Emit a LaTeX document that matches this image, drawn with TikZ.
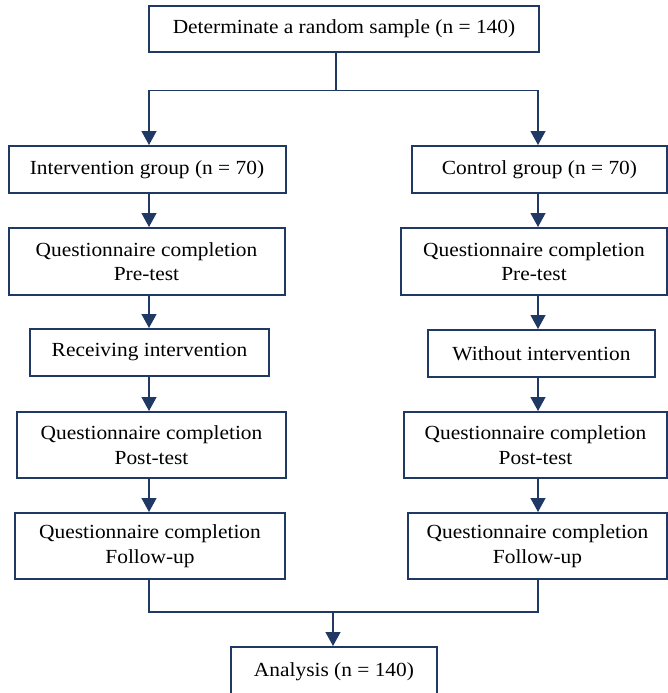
\documentclass[tikz,border=0pt]{standalone}
\usepackage{fontspec}
\setmainfont{Liberation Serif}[FakeStretch=1.07]
\usetikzlibrary{arrows.meta}
\definecolor{navy}{RGB}{31,56,100}
\begin{document}
\begin{tikzpicture}[x=1pt,y=-1pt,
  box/.style={draw=navy,line width=2pt,rectangle,inner sep=0pt,align=center,
    font=\fontsize{20}{24.5}\selectfont},
  link/.style={draw=navy,line width=1.3pt},
  arr/.style={link,-{Triangle[length=14pt,width=15pt]}}]
\useasboundingbox (0,0) rectangle (668,693);
\node[box,minimum width=390pt,minimum height=46pt] (top) at (344,29) {Determinate a random sample (n = 140)};
\node[box,minimum width=277pt,minimum height=47pt] (int) at (147,169.5) {Intervention group (n = 70)};
\node[box,minimum width=255pt,minimum height=47pt] (ctl) at (539.5,169.5) {Control group (n = 70)};
\node[box,minimum width=276pt,minimum height=67pt] (preL) at (146.5,261.5) {Questionnaire completion\\Pre-test};
\node[box,minimum width=266pt,minimum height=67pt] (preR) at (534,261.5) {Questionnaire completion\\Pre-test};
\node[box,minimum width=239pt,minimum height=47pt] (recv) at (149.5,352.5) {Receiving intervention};
\node[box,minimum width=227pt,minimum height=47pt] (wo) at (541.5,353.5) {Without intervention};
\node[box,minimum width=269pt,minimum height=66pt] (postL) at (151.5,445) {Questionnaire completion\\Post-test};
\node[box,minimum width=263pt,minimum height=66pt] (postR) at (535.5,445) {Questionnaire completion\\Post-test};
\node[box,minimum width=270pt,minimum height=66pt] (folL) at (150,546) {Questionnaire completion\\Follow-up};
\node[box,minimum width=259pt,minimum height=66pt] (folR) at (537.5,546) {Questionnaire completion\\Follow-up};
\node[box,minimum width=206pt,minimum height=50pt] (ana) at (334,672) {Analysis (n = 140)};
\coordinate (colL) at (149,0);
\coordinate (colR) at (538,0);
\coordinate (split) at (336,90.7);
\coordinate (join) at (333,612);
\draw[link] (top.south -| split) -- (split);
\draw[arr] (split) -| (int.north -| colL);
\draw[arr] (split) -| (ctl.north -| colR);
\draw[arr] (int.south -| colL) -- (preL.north -| colL);
\draw[arr] (preL.south -| colL) -- (recv.north -| colL);
\draw[arr] (recv.south -| colL) -- (postL.north -| colL);
\draw[arr] (postL.south -| colL) -- (folL.north -| colL);
\draw[arr] (ctl.south -| colR) -- (preR.north -| colR);
\draw[arr] (preR.south -| colR) -- (wo.north -| colR);
\draw[arr] (wo.south -| colR) -- (postR.north -| colR);
\draw[arr] (postR.south -| colR) -- (folR.north -| colR);
\draw[link] (folL.south -| colL) |- (join) -| (folR.south -| colR);
\draw[arr] (join) -- (ana.north -| join);
\end{tikzpicture}
\end{document}
